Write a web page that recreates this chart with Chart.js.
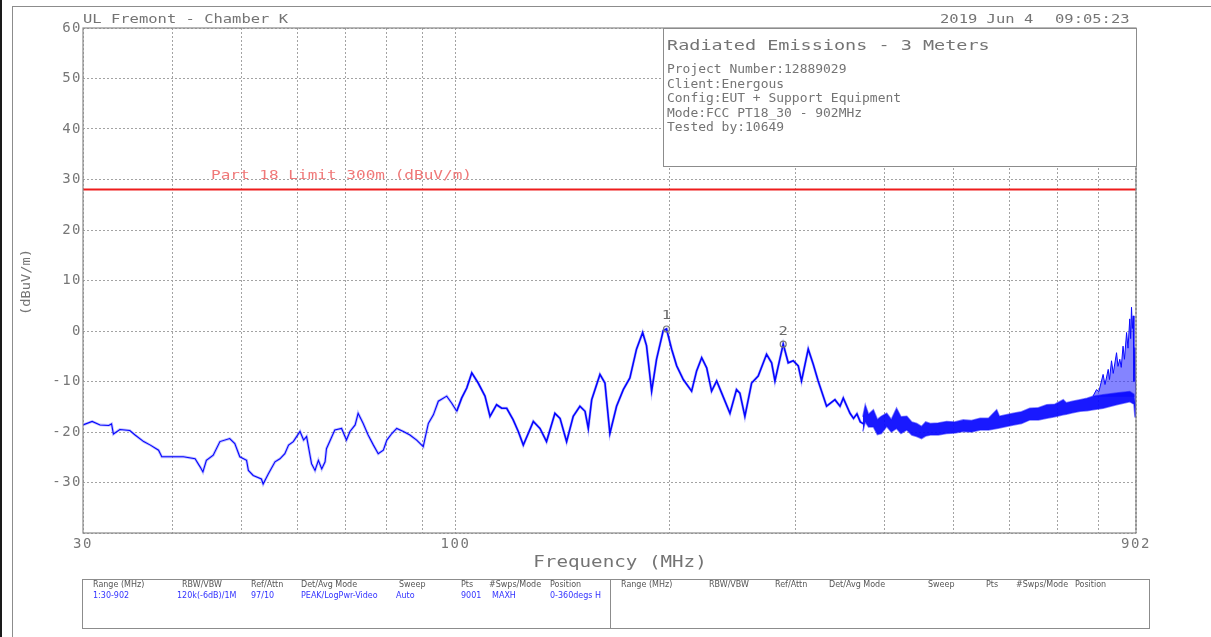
<!DOCTYPE html>
<html>
<head>
<meta charset="utf-8">
<title>Radiated Emissions - 3 Meters</title>
<script src="https://cdn.jsdelivr.net/npm/chart.js@4.4.1/dist/chart.umd.min.js"></script>
<style>
  html, body { margin: 0; padding: 0; background: #fff; }
  #page { position: relative; width: 1211px; height: 637px; overflow: hidden; background: #fff; }
  #page canvas { position: absolute; left: 0; top: 0; }
  .edge { position: absolute; left: 0; top: 0; width: 2px; height: 637px; background: #1a1a1a; }
  .frame { position: absolute; left: 12px; top: 6px; width: 1300px; height: 700px; border: 1px solid #8c8c8c; }
  .txt { position: absolute; font-family: "DejaVu Sans Mono", monospace; color: #747474; white-space: pre; line-height: 1; transform-origin: 0 50%; }
  .hd { font-size: 12px; top: 12.5px; transform: scaleX(1.29); }
  #info { position: absolute; left: 663px; top: 28px; width: 474px; height: 139px; box-sizing: border-box; border: 1px solid #8c8c8c; background: #fff; }
  .ititle { font-size: 14px; transform: scaleX(1.32); }
  .iline { font-size: 12px; transform: scaleX(1.08); }
  #table { position: absolute; left: 82px; top: 579px; width: 1068px; height: 50px; box-sizing: border-box; border: 1px solid #8c8c8c; }
  #divider { position: absolute; left: 610px; top: 579px; width: 1px; height: 50px; background: #8c8c8c; }
  .cell { position: absolute; font-family: "DejaVu Sans", sans-serif; font-size: 8px; line-height: 1; white-space: pre; color: #555; }
  .cell.val { color: #3333ff; }
</style>
</head>
<body>
<div id="page">
  <canvas id="emiChart" width="1211" height="637"></canvas>
  <div class="edge"></div>
  <div class="frame"></div>
  <div class="txt hd" style="left:83px">UL Fremont - Chamber K</div>
  <div class="txt hd" style="left:940px">2019 Jun 4</div>
  <div class="txt hd" style="left:1055px">09:05:23</div>
  <div id="info"></div>
  <div class="txt ititle" style="left:667px;top:37.5px">Radiated Emissions - 3 Meters</div>
  <div id="infoLines"></div>
  <div id="table"></div>
  <div id="divider"></div>
  <div id="cells"></div>
</div>
<script>
// swept trace, 30 MHz .. ~373 MHz (MHz / dBuV/m)
const traceFreq = [
  30.0, 30.9, 31.7, 32.6, 32.9, 33.1, 33.8, 34.9, 35.5, 36.5, 37.3, 38.3, 38.7, 40.0, 41.5, 43.1,
  43.8, 44.2, 44.7, 45.7, 46.7, 48.2, 49.0, 49.8, 50.9, 51.2, 52.0, 53.4, 53.7, 54.6, 55.8, 56.7,
  57.6, 58.3, 59.2, 60.5, 61.2, 61.8, 62.8, 63.5, 64.2, 64.9, 65.6, 65.9, 67.7, 69.2, 70.3, 71.1,
  72.3, 73.0, 74.2, 75.4, 76.7, 77.9, 79.2, 80.1, 81.4, 82.7, 84.5, 86.3, 88.2, 90.1, 90.6, 91.6,
  93.1, 94.6, 97.2, 98.8, 100.4, 102.0, 103.7, 105.4, 107.6, 110.0, 111.8, 114.2, 116.1, 118.0,
  120.5, 122.5, 124.5, 126.5, 128.6, 131.4, 134.2, 137.9, 140.2, 143.2, 146.3, 149.5, 152.0,
  153.6, 155.3, 159.5, 162.1, 164.7, 168.3, 172.0, 175.7, 179.5, 183.1, 185.4, 188.5, 191.5,
  195.7, 197.8, 201.1, 204.4, 208.8, 214.5, 218.0, 221.6, 225.2, 228.8, 232.6, 236.4, 242.8,
  248.0, 250.7, 254.8, 260.4, 266.0, 273.3, 277.8, 280.8, 288.4, 293.1, 297.9, 302.8, 306.0,
  312.7, 317.8, 322.9, 331.8, 340.9, 346.5, 350.2, 357.9, 362.0, 366.0, 370.0, 374.0
];
const traceLevel = [
  -18.6, -17.9, -18.6, -18.7, -18.4, -20.4, -19.5, -19.7, -20.6, -21.9, -22.6, -23.6, -24.9, -24.9, -24.9, -25.3,
  -26.9, -27.9, -25.6, -24.6, -21.9, -21.3, -22.3, -24.9, -25.6, -27.6, -28.6, -29.3, -30.3, -28.3, -25.9, -25.3,
  -24.3, -22.6, -21.9, -19.9, -21.6, -20.9, -26.3, -27.6, -25.6, -27.3, -25.9, -23.3, -19.6, -19.3, -21.6, -19.9,
  -18.6, -16.3, -18.3, -20.6, -22.6, -24.3, -23.6, -21.6, -20.3, -19.3, -19.9, -20.6, -21.6, -22.9, -21.3, -18.3,
  -16.6, -13.9, -12.9, -14.3, -15.9, -13.3, -11.3, -8.3, -10.3, -12.9, -16.9, -14.6, -15.3, -15.3,
  -17.6, -19.9, -22.6, -20.3, -17.9, -19.3, -21.9, -16.3, -17.3, -21.9, -16.9, -14.9, -15.9,
  -19.3, -13.6, -8.6, -10.3, -20.3, -14.9, -11.6, -9.3, -3.6, -0.3, -2.9, -11.9, -5.6,
  0.1, 0.4, -3.6, -6.9, -9.6, -11.9, -7.9, -5.3, -7.3, -11.9, -9.9, -12.3, -16.3,
  -11.6, -12.3, -16.9, -10.3, -8.9, -4.6, -6.3, -9.9, -2.6, -6.3, -5.9, -6.9, -9.9,
  -3.6, -6.6, -9.9, -14.9, -13.6, -14.9, -13.3, -16.3, -17.3, -16.4, -18.0, -18.4
];

// dense noise band above ~373 MHz: upper and lower edge
const bandFreq = [373, 376, 380, 386, 391, 396, 403, 409, 416, 422, 430, 437, 444, 451, 457, 464,
  476, 489, 502, 516, 530, 545, 560, 575, 580, 593, 607, 623, 640, 658, 676, 694,
  713, 720, 735, 753, 770, 785, 811, 847, 884, 896, 899, 902];
const bandHigh = [-17.0, -14.6, -16.5, -15.6, -17.5, -16.9, -16.3, -17.5, -15.3, -17.0, -16.9, -18.0, -18.3, -18.9, -18.0, -18.3,
  -18.2, -17.9, -18.0, -17.6, -17.7, -17.3, -17.3, -15.6, -16.9, -16.6, -16.3, -16.0, -15.3, -15.2, -14.6, -14.5,
  -13.6, -14.2, -13.9, -13.6, -13.3, -12.9, -12.6, -12.3, -12.0, -12.5, -14.0, -14.5];
const bandLow = [-19.9, -18.0, -19.0, -19.0, -20.5, -20.3, -18.9, -20.0, -19.3, -20.3, -19.6, -20.6, -20.9, -21.3, -20.8, -20.6,
  -20.6, -20.3, -20.2, -19.9, -20.0, -19.6, -19.6, -19.3, -19.2, -18.9, -18.6, -18.3, -17.6, -17.6, -17.3, -17.0,
  -16.6, -16.5, -16.2, -15.9, -15.8, -15.6, -15.3, -14.6, -14.0, -14.5, -17.0, -17.0];

// spurs near the top of the band
const spikeFreq = [785, 794, 800, 811, 816, 824.5, 828, 833.4, 838, 847, 851, 856, 860, 865, 869,
  875, 879, 884, 886.5, 889, 891.5, 894, 896, 899, 902];
const spikeLevel = [-12.9, -11.6, -12.0, -8.6, -10.6, -7.6, -9.6, -5.9, -8.4, -4.3, -7.0, -5.6, -7.2, -3.0, -5.6,
  -0.3, -3.4, 2.4, -1.5, 4.7, 0.5, 3.0, -10.0, -3.3, -16.6];

const limitFreq = [30, 902];
const limitLevel = [28, 28];
const limitLabel = 'Part 18 Limit 300m (dBuV/m)';

const markerFreq = [197.8, 288.4];
const markerLevel = [0.4, -2.6];
const markerNames = ['1', '2'];

const gridFreqs = [30, 40, 50, 60, 70, 80, 90, 100, 200, 300, 400, 500, 600, 700, 800, 900, 902];
const labelFreqs = [30, 100, 902];
const levelTicks = [-40, -30, -20, -10, 0, 10, 20, 30, 40, 50, 60];

const infoLines = [
  'Project Number:12889029',
  'Client:Energous',
  'Config:EUT + Support Equipment',
  'Mode:FCC PT18_30 - 902MHz',
  'Tested by:10649'
];
const tableHeads = ['Range (MHz)', 'RBW/VBW', 'Ref/Attn', 'Det/Avg Mode', 'Sweep', 'Pts', '#Swps/Mode', 'Position'];
const tableVals = ['1:30-902', '120k(-6dB)/1M', '97/10', 'PEAK/LogPwr-Video', 'Auto', '9001', 'MAXH', '0-360degs H'];

// header / table text
const infoBox = document.getElementById('infoLines');
infoLines.forEach((t, i) => {
  const d = document.createElement('div');
  d.className = 'txt iline';
  d.style.left = '667px';
  d.style.top = (63.2 + i * 14.5) + 'px';
  d.textContent = t;
  infoBox.appendChild(d);
});

const cells = document.getElementById('cells');
const addCell = (text, left, top, cls) => {
  const d = document.createElement('div');
  d.className = 'cell' + (cls ? ' ' + cls : '');
  d.style.left = left + 'px';
  d.style.top = top + 'px';
  d.textContent = text;
  cells.appendChild(d);
};
const headLeft = [93, 182, 251, 301, 399, 461, 489, 550];
const valLeft = [93, 177, 251, 301, 396, 461, 492, 550];
const headRight = [621, 709, 775, 829, 928, 986, 1016, 1075];
tableHeads.forEach((t, i) => {
  addCell(t, headLeft[i], 581);
  addCell(t, headRight[i], 581);
  addCell(tableVals[i], valLeft[i], 592, 'val');
});

const pts = (xs, ys) => xs.map((f, i) => ({x: f, y: ys[i]}));

// stretched plotter-style text
const wideText = (ctx, text, x, y, sx, align) => {
  ctx.save();
  ctx.translate(x, y);
  ctx.scale(sx, 1);
  ctx.textAlign = align;
  ctx.fillText(text, 0, 0);
  ctx.restore();
};

const annotate = {
  id: 'annotate',
  beforeDraw(chart) {
    chart.ctx.letterSpacing = '1.5px';
  },
  afterDraw(chart) {
    const {ctx, chartArea: a, scales: {x, y}} = chart;
    ctx.save();
    ctx.letterSpacing = '0px';
    ctx.strokeStyle = '#8a8a8a';
    ctx.lineWidth = 1.2;
    ctx.strokeRect(a.left, a.top, a.right - a.left, a.bottom - a.top);

    ctx.textBaseline = 'middle';
    ctx.font = '13px "DejaVu Sans Mono"';
    ctx.fillStyle = '#f07878';
    wideText(ctx, limitLabel, a.left + 128, y.getPixelForValue(limitLevel[0]) - 14, 1.235, 'left');

    ctx.fillStyle = '#6a6a6a';
    markerNames.forEach((n, i) => {
      wideText(ctx, n, x.getPixelForValue(markerFreq[i]), y.getPixelForValue(markerLevel[i]) - 13, 1.2, 'center');
    });

    ctx.fillStyle = '#747474';
    ctx.font = '15px "DejaVu Sans Mono"';
    wideText(ctx, 'Frequency (MHz)', 620, 563, 1.28, 'center');

    ctx.translate(27, 282);
    ctx.rotate(-Math.PI / 2);
    ctx.font = '12px "DejaVu Sans Mono"';
    wideText(ctx, '(dBuV/m)', 0, 0, 1.14, 'center');
    ctx.restore();
  }
};

const tickFont = {family: '"DejaVu Sans Mono", monospace', size: 14};
const traceWidth = c => (c.p0.parsed.x > 100 ? 1.6 : 1.1);

new Chart(document.getElementById('emiChart'), {
  type: 'line',
  data: {
    datasets: [
      {
        label: 'Markers',
        data: pts(markerFreq, markerLevel),
        showLine: false,
        pointRadius: 3,
        pointBorderWidth: 1.2,
        pointBorderColor: '#777',
        pointBackgroundColor: 'rgba(0,0,0,0)'
      },
      {
        label: 'Trace',
        data: pts(traceFreq, traceLevel),
        borderColor: '#0505ff',
        borderWidth: 1.1,
        segment: {borderWidth: traceWidth},
        pointRadius: 0,
        tension: 0
      },
      {
        label: 'Trace spread',
        data: pts(traceFreq, traceLevel),
        borderColor: 'rgba(50,50,255,0.3)',
        borderWidth: 2.8,
        pointRadius: 0,
        tension: 0
      },
      {
        label: 'Band low',
        data: pts(bandFreq, bandLow),
        borderColor: 'rgba(20,20,255,0.55)',
        borderWidth: 1.5,
        pointRadius: 0,
        tension: 0
      },
      {
        label: 'Band high',
        data: pts(bandFreq, bandHigh),
        borderColor: 'rgba(20,20,255,0.55)',
        borderWidth: 1.5,
        backgroundColor: 'rgba(5,5,255,0.92)',
        fill: '-1',
        pointRadius: 0,
        tension: 0
      },
      {
        label: 'Spurs',
        data: pts(spikeFreq, spikeLevel),
        borderColor: '#0a0aff',
        borderWidth: 1,
        backgroundColor: 'rgba(50,50,255,0.6)',
        fill: {value: -13},
        pointRadius: 0,
        tension: 0
      },
      {
        label: 'Limit',
        data: pts(limitFreq, limitLevel),
        borderColor: '#ee1c1c',
        borderWidth: 2,
        pointRadius: 0
      }
    ]
  },
  options: {
    responsive: false,
    animation: false,
    devicePixelRatio: 1,
    layout: {padding: {left: 0, top: 28, right: 75, bottom: 62}},
    plugins: {legend: {display: false}, tooltip: {enabled: false}},
    scales: {
      x: {
        type: 'logarithmic',
        min: 30,
        max: 902,
        afterBuildTicks: s => { s.ticks = gridFreqs.map(v => ({value: v})); },
        afterFit: s => { s.height = 42; },
        ticks: {
          autoSkip: false,
          maxRotation: 0,
          padding: 3,
          color: '#777',
          font: tickFont,
          callback: v => labelFreqs.includes(v) ? String(v) : ''
        },
        grid: {color: '#a3a3a3', lineWidth: 1, drawTicks: false},
        border: {display: false, dash: [2, 2]}
      },
      y: {
        min: -40,
        max: 60,
        afterBuildTicks: s => { s.ticks = levelTicks.map(v => ({value: v})); },
        afterFit: s => { s.width = 83; },
        ticks: {
          padding: 1,
          color: '#777',
          font: tickFont,
          callback: v => v === -40 ? '' : String(v)
        },
        grid: {color: '#a3a3a3', lineWidth: 1, drawTicks: false},
        border: {display: false, dash: [2, 2]}
      }
    }
  },
  plugins: [annotate]
});
</script>
</body>
</html>
